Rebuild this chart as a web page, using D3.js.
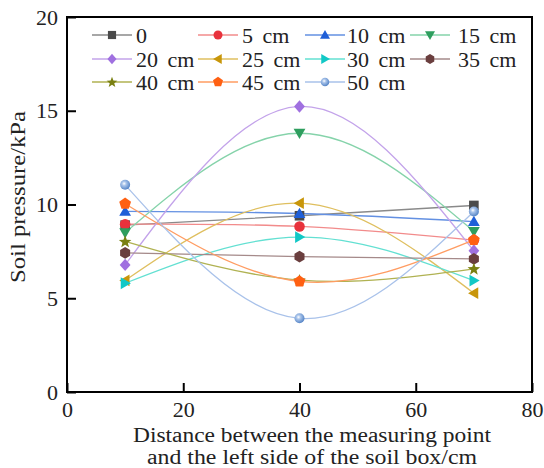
<!DOCTYPE html>
<html><head><meta charset="utf-8">
<script src="https://cdn.jsdelivr.net/npm/d3@7"></script>
<style>body{margin:0;background:#fff}text{font-family:"Liberation Serif","Times New Roman",serif;fill:#222}</style>
</head><body>
<svg id="c" width="544" height="468"></svg>
<script>
// ---- data ----
const xPositions = [10, 40, 70];
const seriesNames = ["0", "5 cm", "10 cm", "15 cm", "20 cm", "25 cm", "30 cm", "35 cm", "40 cm", "45 cm", "50 cm"];
const s0   = [8.90, 9.40, 9.95];
const s5   = [8.95, 8.83, 8.10];
const s10  = [9.63, 9.52, 9.09];
const s15  = [8.50, 13.80, 8.56];
const s20  = [6.78, 15.23, 7.53];
const s25  = [5.95, 10.07, 5.27];
const s30  = [5.80, 8.26, 5.94];
const s35  = [7.42, 7.22, 7.10];
const s40  = [8.03, 5.97, 6.57];
const s45  = [10.04, 5.90, 8.11];
const s50  = [11.05, 3.93, 9.63];
const seriesValues = [s0, s5, s10, s15, s20, s25, s30, s35, s40, s45, s50];
const xTicks = [0, 20, 40, 60, 80];
const yTicks = [0, 5, 10, 15, 20];
const xTitle = ["Distance between the measuring point", "and the left side of the soil box/cm"];
const yTitle = "Soil pressure/kPa";

// ---- styles ----
const lineColors   = ["#8a8a8a","#f28b8b","#6390e2","#85d3aa","#c3a3ea","#dfbf5f","#63e0d2","#a58a8a","#b0b252","#ff9c62","#a9c2ea"];
const markerColors = ["#4a4a4a","#e8323c","#1f5fd8","#2e9e5e","#a070e0","#c8960a","#12c8c6","#6a3e3e","#7a8012","#ff6012","#6a98d0"];
const shapes = ["square","circle","triUp","triDown","diamond","triLeft","triRight","hexagon","star","pentagon","ball"];

const svg = d3.select("#c");
const defs = svg.append("defs");
const grad = defs.append("radialGradient").attr("id","ballg").attr("cx","40%").attr("cy","38%").attr("r","60%");
grad.append("stop").attr("offset","0%").attr("stop-color","#ffffff");
grad.append("stop").attr("offset","35%").attr("stop-color","#a9c4ea");
grad.append("stop").attr("offset","100%").attr("stop-color","#5a88c8");

const x = d3.scaleLinear().domain([0, 80]).range([67, 532]);
const y = d3.scaleLinear().domain([0, 20]).range([392, 17]);

function poly(cx, cy, pts) {
  return "M" + pts.map(p => (cx + p[0]).toFixed(2) + "," + (cy + p[1]).toFixed(2)).join("L") + "Z";
}
function regular(n, r, rot) {
  const a = [];
  for (let i = 0; i < n; i++) { const t = rot + i * 2 * Math.PI / n; a.push([r * Math.cos(t), r * Math.sin(t)]); }
  return a;
}
function drawMarker(g, shape, cx, cy, color, k) {
  let p;
  switch (shape) {
    case "square": { const h = 4.8 * k; g.append("rect").attr("x", cx - h).attr("y", cy - h).attr("width", 2*h).attr("height", 2*h).attr("fill", color); return; }
    case "circle": g.append("circle").attr("cx", cx).attr("cy", cy).attr("r", 5.3*k).attr("fill", color); return;
    case "ball": g.append("circle").attr("cx", cx).attr("cy", cy).attr("r", 5*k).attr("fill", "url(#ballg)"); return;
    case "triUp": p = poly(cx, cy + 1*k, regular(3, 6.8*k, -Math.PI/2)); break;
    case "triDown": p = poly(cx, cy - 1*k, regular(3, 6.8*k, Math.PI/2)); break;
    case "triLeft": p = poly(cx + 1*k, cy, regular(3, 6.8*k, Math.PI)); break;
    case "triRight": p = poly(cx - 1*k, cy, regular(3, 6.8*k, 0)); break;
    case "diamond": p = poly(cx, cy, [[0,-6.2*k],[5.4*k,0],[0,6.2*k],[-5.4*k,0]]); break;
    case "hexagon": p = poly(cx, cy, regular(6, 5.8*k, -Math.PI/2)); break;
    case "pentagon": p = poly(cx, cy, regular(5, 6.2*k, -Math.PI/2)); break;
    case "star": {
      const a = [];
      for (let i = 0; i < 10; i++) { const rr = i % 2 ? 2.8*k : 6.6*k; const t = -Math.PI/2 + i * Math.PI/5; a.push([rr*Math.cos(t), rr*Math.sin(t)]); }
      p = poly(cx, cy + 0.5*k, a); break;
    }
  }
  g.append("path").attr("d", p).attr("fill", color);
}

// axes
const xAxis = d3.axisBottom(x).tickValues(xTicks).tickSizeInner(-9).tickSizeOuter(0).tickPadding(9);
const yAxis = d3.axisLeft(y).tickValues(yTicks).tickSizeInner(-9).tickSizeOuter(0).tickPadding(9);
const gx = svg.append("g").attr("transform", "translate(0,392)").call(xAxis);
const gy = svg.append("g").attr("transform", "translate(67,0)").call(yAxis);
[gx, gy].forEach(g => {
  g.select(".domain").remove();
  g.selectAll(".tick line").attr("stroke", "#000").attr("stroke-width", 2);
  g.selectAll(".tick text").style("font-family", '"Liberation Serif",serif').style("font-size", "22px").attr("fill", "#222");
});

// lines
const line = d3.line().x((d, i) => x(xPositions[i])).y(d => y(d)).curve(d3.curveNatural);
const plot = svg.append("g");
seriesValues.forEach((vals, si) => {
  plot.append("path").attr("d", line(vals)).attr("fill", "none").attr("stroke", lineColors[si]).attr("stroke-width", 1.3);
});
seriesValues.forEach((vals, si) => {
  vals.forEach((v, i) => drawMarker(plot, shapes[si], x(xPositions[i]), y(v), markerColors[si], 1));
});

// frame
svg.append("rect").attr("x", 67).attr("y", 17).attr("width", 465).attr("height", 375)
  .attr("fill", "none").attr("stroke", "#000").attr("stroke-width", 2);

// legend
const legLineStart = [92, 198, 305, 410];
const legTextX = [136, 242, 347, 458];
const legRowY = [35, 59, 82];
const leg = svg.append("g");
seriesNames.forEach((name, i) => {
  const c = i % 4, r = Math.floor(i / 4);
  const x0 = legLineStart[c], yy = legRowY[r];
  leg.append("line").attr("x1", x0).attr("x2", x0 + 40).attr("y1", yy).attr("y2", yy)
    .attr("stroke", lineColors[i]).attr("stroke-width", 1.3);
  drawMarker(leg, shapes[i], x0 + 20, yy, markerColors[i], 0.85);
  leg.append("text").attr("x", legTextX[c]).attr("y", yy + 8).style("font-size", "22px")
    .style("word-spacing", "4px").text(name);
});

// titles
svg.append("text").attr("x", 312).attr("y", 442).attr("text-anchor", "middle").style("font-size", "20px")
  .attr("textLength", 358).attr("lengthAdjust", "spacingAndGlyphs").text(xTitle[0]);
svg.append("text").attr("x", 312).attr("y", 464).attr("text-anchor", "middle").style("font-size", "20px")
  .attr("textLength", 330).attr("lengthAdjust", "spacingAndGlyphs").text(xTitle[1]);
svg.append("text").attr("transform", "translate(25,197) rotate(-90)").attr("text-anchor", "middle").style("font-size", "22px")
  .attr("textLength", 172).attr("lengthAdjust", "spacingAndGlyphs").text(yTitle);
</script>
</body></html>
